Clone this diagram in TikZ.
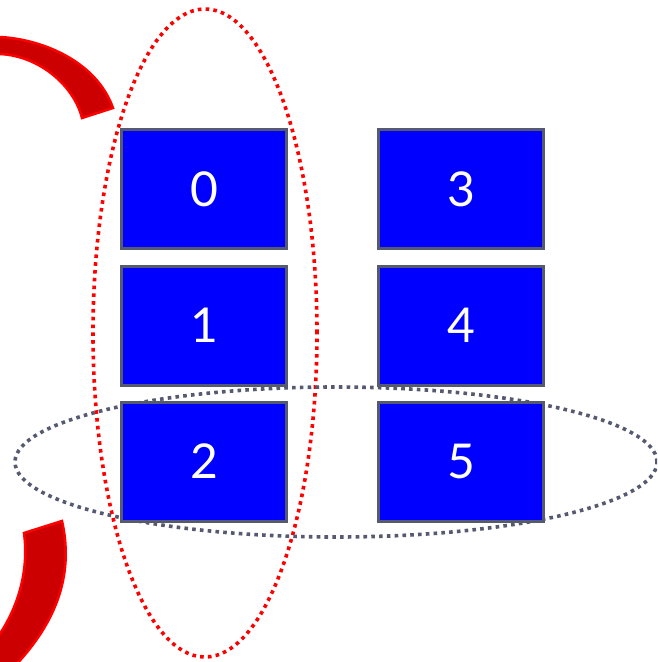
\documentclass[tikz,border=0pt]{standalone}
\usepackage{fontspec}
\newfontfamily\cellfont{Lato}
\usetikzlibrary{shapes.geometric}
\definecolor{cellblue}{RGB}{0,0,255}
\definecolor{cellgrey}{RGB}{85,90,112}
\definecolor{arcred}{RGB}{204,0,0}
\definecolor{arcedge}{RGB}{255,0,0}
\tikzset{
  % The 'cell' style is a blue block with a grey frame and a white digit
  cell/.style={draw=cellgrey, line width=3pt, fill=cellblue, minimum width=165pt, minimum height=119pt, inner sep=0pt, text=white, font=\cellfont\fontsize{48}{48}\selectfont},
  % The 'ring' style is the common base of both dotted ellipses
  ring/.style={shape=ellipse, inner sep=0pt, line width=3.6pt, dash pattern=on 3.6pt off 4.2pt},
  % The 'column-ring' style is the red ellipse round the left column
  column-ring/.style={ring, draw=arcedge},
  % The 'row-ring' style is the grey ellipse round the bottom row
  row-ring/.style={ring, draw=cellgrey},
  % The 'arc-band' style is for the red curved bands at the left edge
  arc-band/.style={fill=arcred, draw=arcedge, line width=2.5pt, line join=miter}
}

\begin{document}
\begin{tikzpicture}[x=1pt, y=-1pt]

  % Fix the picture size and cut everything at its edges
  \useasboundingbox (0,0) rectangle (657,662);
  \clip (0,0) rectangle (657,662);

  % Draw the red curved bands
  \filldraw[arc-band] (0,37) .. controls (40,39) and (96,60) .. (113,108)
                      -- (82,118) .. controls (74,86) and (40,56) .. (0,54)
                      -- (-8,54) -- (-8,37) -- cycle; % Top band
  \filldraw[arc-band] (24,533) -- (62,521) .. controls (73,570) and (61,620) .. (9,672)
                      -- (-8,672) -- (-8,645) .. controls (19,610) and (29,570) .. (24,533)
                      -- cycle; % Bottom band

  % Draw the dotted ellipses
  \node[column-ring, minimum width=224pt, minimum height=648pt] at (205,333) (col-ring) {};
  \node[row-ring, minimum width=642pt, minimum height=150pt] at (336,462) (row-ring) {};

  % Draw the left column of cells
  \node[cell] at (204,189) (cell-0) {0};
  \node[cell] at (204,325.5) (cell-1) {1};
  \node[cell] at (204,461.5) (cell-2) {2};

  % Draw the right column of cells
  \node[cell] at (461,189) (cell-3) {3};
  \node[cell] at (461,325.5) (cell-4) {4};
  \node[cell] at (461,461.5) (cell-5) {5};

\end{tikzpicture}
\end{document}
